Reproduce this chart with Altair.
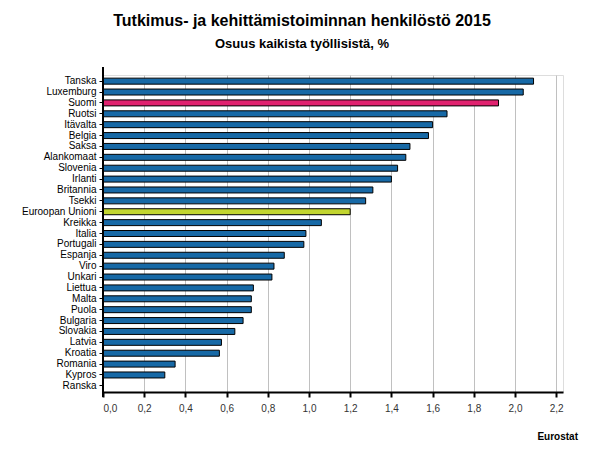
import altair as alt
import pandas as pd

countries = ["Tanska", "Luxemburg", "Suomi", "Ruotsi", "Itävalta", "Belgia", "Saksa",
             "Alankomaat", "Slovenia", "Irlanti", "Britannia", "Tsekki", "Euroopan Unioni",
             "Kreikka", "Italia", "Portugali", "Espanja", "Viro", "Unkari", "Liettua",
             "Malta", "Puola", "Bulgaria", "Slovakia", "Latvia", "Kroatia", "Romania",
             "Kypros", "Ranska"]
values = [2.09, 2.04, 1.92, 1.67, 1.60, 1.58, 1.49, 1.47, 1.43, 1.40, 1.31, 1.275, 1.20,
          1.06, 0.985, 0.975, 0.88, 0.83, 0.82, 0.73, 0.72, 0.72, 0.68, 0.64, 0.575,
          0.565, 0.35, 0.30, None]
groups = ["maa"] * len(countries)
groups[countries.index("Suomi")] = "Suomi"
groups[countries.index("Euroopan Unioni")] = "EU"

x_ticks = [0.0, 0.2, 0.4, 0.6, 0.8, 1.0, 1.2, 1.4, 1.6, 1.8, 2.0, 2.2]

title_text = "Tutkimus- ja kehittämistoiminnan henkilöstö 2015"
subtitle_text = "Osuus kaikista työllisistä, %"
source_text = "Eurostat"

df = pd.DataFrame({"maa": countries, "arvo": values, "ryhma": groups})
one = alt.Data(values=[{"k": 1}])

W, H = 460, 317
FONT = "Liberation Sans"

bars = alt.Chart(df).mark_bar(stroke="black", strokeWidth=1).encode(
    x=alt.X("arvo:Q",
            scale=alt.Scale(domain=[0, 2.233], nice=False, zero=True),
            axis=alt.Axis(values=x_ticks, title=None, grid=True, gridColor="#c0c0c0",
                          gridWidth=1, domainColor="black", domainWidth=2,
                          tickColor="black", tickWidth=2, tickSize=5,
                          labelExpr="replace(format(datum.value, '.1f'), '.', ',')",
                          labelFont=FONT, labelFontSize=10, labelColor="#333333",
                          labelPadding=6)),
    y=alt.Y("maa:N", sort=countries,
            scale=alt.Scale(domain=countries, paddingInner=0.45, paddingOuter=0.29),
            axis=alt.Axis(title=None, domain=False, tickColor="black", tickSize=4,
                          tickWidth=1, labelFont=FONT, labelFontSize=10,
                          labelColor="black", labelPadding=3)),
    color=alt.Color("ryhma:N",
                    scale=alt.Scale(domain=["maa", "Suomi", "EU"],
                                    range=["#1769a6", "#e0226f", "#c2d52f"]),
                    legend=None),
)

yaxis_line = alt.Chart(one).mark_rule(color="black", strokeWidth=2).encode(
    x=alt.value(0), y=alt.value(-8), y2=alt.value(H + 5)
)

title = alt.Chart(one).mark_text(font=FONT, fontSize=16, fontWeight="bold",
                                 align="center", baseline="alphabetic",
                                 color="black").encode(
    x=alt.value(199), y=alt.value(-49), text=alt.value(title_text)
)
subtitle = alt.Chart(one).mark_text(font=FONT, fontSize=13, fontWeight="bold",
                                    align="center", baseline="alphabetic",
                                    color="black").encode(
    x=alt.value(199), y=alt.value(-27), text=alt.value(subtitle_text)
)
source = alt.Chart(one).mark_text(font=FONT, fontSize=10, fontWeight="bold",
                                  align="right", baseline="alphabetic",
                                  color="black").encode(
    x=alt.value(475), y=alt.value(365), text=alt.value(source_text)
)

chart = alt.layer(bars, yaxis_line, title, subtitle, source).properties(
    width=W, height=H,
    autosize=alt.AutoSizeParams(type="none"),
    padding={"left": 95, "top": 67, "right": 32, "bottom": 52},
).configure_view(stroke=None).configure(background="white")

chart.save("out.html", embed_options={"renderer": "svg", "actions": False})
